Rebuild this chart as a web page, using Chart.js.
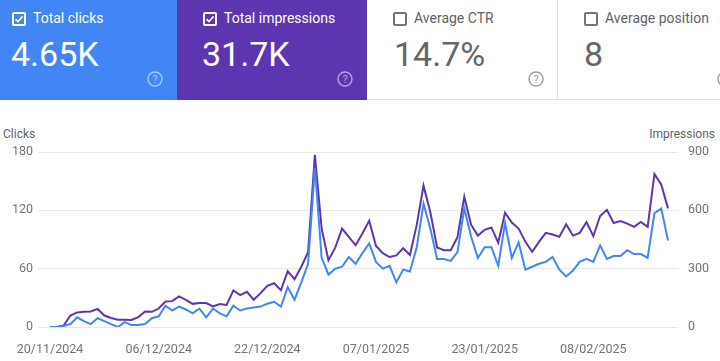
<!DOCTYPE html>
<html>
<head>
<meta charset="utf-8">
<script src="https://cdn.jsdelivr.net/npm/chart.js@4.4.1/dist/chart.umd.min.js"></script>
<style>
  body { margin: 0; width: 720px; height: 361px; overflow: hidden; background: #fff; font-family: Roboto, sans-serif; position: relative; }
  .card { position: absolute; top: 0; height: 100px; box-sizing: border-box; }
  .card .box { position: absolute; left: 12px; top: 12px; width: 14px; height: 14px; box-sizing: border-box; border: 2px solid #fff; border-radius: 2px; }
  .card .label { position: absolute; left: 33px; top: 9px; font-size: 14px; line-height: 18px; white-space: nowrap; }
  .card .value { position: absolute; left: 11px; top: 34px; font-size: 34px; line-height: 40px; white-space: nowrap; }
  .card .help { position: absolute; top: 71px; width: 16px; height: 16px; }
  .sel { color: #fff; }
  .unsel { color: #5f6368; border-bottom: 1px solid #e0e0e0; }
  .unsel .box { border-color: #757575; }
  .unsel .value { color: #666; }
  .axis-title { position: absolute; top: 126px; font-size: 12px; line-height: 16px; color: #5f6368; }
  #wrap { position: absolute; left: 0; top: 100px; width: 720px; height: 261px; }
</style>
</head>
<body>
<div class="card sel" style="left:0;width:177px;background:#4285f4;">
  <div class="box"><svg width="10" height="10" viewBox="0 0 10 10" style="position:absolute;left:0;top:0"><path d="M1.5 5.2 L4 7.6 L8.6 2.4" stroke="#fff" stroke-width="1.6" fill="none"/></svg></div>
  <div class="label">Total clicks</div>
  <div class="value">4.65K</div>
  <svg class="help" style="left:147px" viewBox="0 0 16 16"><circle cx="8" cy="8" r="7" fill="none" stroke="rgba(255,255,255,0.55)" stroke-width="1.4"/><text x="8" y="12" text-anchor="middle" font-size="11" font-family="Roboto" fill="rgba(255,255,255,0.55)">?</text></svg>
</div>
<div class="card sel" style="left:177px;width:190px;background:#5e35b1;">
  <div class="box" style="left:26px"><svg width="10" height="10" viewBox="0 0 10 10" style="position:absolute;left:0;top:0"><path d="M1.5 5.2 L4 7.6 L8.6 2.4" stroke="#fff" stroke-width="1.6" fill="none"/></svg></div>
  <div class="label" style="left:47px">Total impressions</div>
  <div class="value" style="left:25px">31.7K</div>
  <svg class="help" style="left:160px" viewBox="0 0 16 16"><circle cx="8" cy="8" r="7" fill="none" stroke="rgba(255,255,255,0.55)" stroke-width="1.4"/><text x="8" y="12" text-anchor="middle" font-size="11" font-family="Roboto" fill="rgba(255,255,255,0.55)">?</text></svg>
</div>
<div class="card unsel" style="left:367px;width:191px;border-right:1px solid #e0e0e0;">
  <div class="box" style="left:26px"></div>
  <div class="label" style="left:47px">Average CTR</div>
  <div class="value" style="left:27px">14.7%</div>
  <svg class="help" style="left:161px" viewBox="0 0 16 16"><circle cx="8" cy="8" r="7" fill="none" stroke="#9aa0a6" stroke-width="1.4"/><text x="8" y="12" text-anchor="middle" font-size="11" font-family="Roboto" fill="#9aa0a6">?</text></svg>
</div>
<div class="card unsel" style="left:558px;width:162px;">
  <div class="box" style="left:26px"></div>
  <div class="label" style="left:47px">Average position</div>
  <div class="value" style="left:26px">8</div>
  <svg class="help" style="left:159px" viewBox="0 0 16 16"><circle cx="8" cy="8" r="7" fill="none" stroke="#9aa0a6" stroke-width="1.4"/></svg>
</div>

<div class="axis-title" style="left:3px;">Clicks</div>
<div class="axis-title" style="right:5px;">Impressions</div>

<div id="wrap"><canvas id="perfChart"></canvas></div>

<script>
// Daily dates shown on the x axis
const dates = [
  '20/11/2024','21/11/2024','22/11/2024','23/11/2024','24/11/2024','25/11/2024','26/11/2024',
  '27/11/2024','28/11/2024','29/11/2024','30/11/2024',
  '01/12/2024','02/12/2024','03/12/2024','04/12/2024','05/12/2024','06/12/2024','07/12/2024',
  '08/12/2024','09/12/2024','10/12/2024','11/12/2024','12/12/2024','13/12/2024','14/12/2024',
  '15/12/2024','16/12/2024','17/12/2024','18/12/2024','19/12/2024','20/12/2024','21/12/2024',
  '22/12/2024','23/12/2024','24/12/2024','25/12/2024','26/12/2024','27/12/2024','28/12/2024',
  '29/12/2024','30/12/2024','31/12/2024',
  '01/01/2025','02/01/2025','03/01/2025','04/01/2025','05/01/2025','06/01/2025','07/01/2025',
  '08/01/2025','09/01/2025','10/01/2025','11/01/2025','12/01/2025','13/01/2025','14/01/2025',
  '15/01/2025','16/01/2025','17/01/2025','18/01/2025','19/01/2025','20/01/2025','21/01/2025',
  '22/01/2025','23/01/2025','24/01/2025','25/01/2025','26/01/2025','27/01/2025','28/01/2025',
  '29/01/2025','30/01/2025','31/01/2025',
  '01/02/2025','02/02/2025','03/02/2025','04/02/2025','05/02/2025','06/02/2025','07/02/2025',
  '08/02/2025','09/02/2025','10/02/2025','11/02/2025','12/02/2025','13/02/2025','14/02/2025',
  '15/02/2025','16/02/2025','17/02/2025','18/02/2025','19/02/2025'
];

// Clicks per day (left axis)
const clicks = [
  0, 0, 1, 3, 10, 6, 3, 9, 6, 3,
  0, 5, 2, 2, 3, 9, 11, 22, 17, 21,
  18, 14, 19, 10, 19, 14, 11, 22, 17, 19,
  20, 21, 24, 26, 21, 41, 28, 46, 65, 164,
  71, 54, 60, 62, 72, 65, 76, 86, 67, 60,
  63, 46, 59, 57, 82, 127, 101, 70, 70, 68,
  77, 122, 93, 71, 82, 82, 63, 107, 71, 87,
  59, 62, 65, 67, 72, 59, 52, 58, 67, 70,
  67, 84, 70, 73, 73, 79, 75, 75, 71, 117,
  122, 89
];

// Impressions per day (right axis)
const impressions = [
  0, 0, 7, 59, 75, 78, 80, 93, 59, 46,
  37, 37, 36, 51, 80, 78, 95, 131, 133, 157,
  140, 119, 123, 123, 106, 118, 113, 188, 164, 181,
  140, 174, 212, 225, 189, 287, 246, 310, 385, 885,
  505, 344, 408, 506, 464, 420, 481, 547, 417, 380,
  360, 368, 405, 370, 525, 727, 590, 409, 395, 395,
  462, 670, 526, 470, 500, 512, 433, 588, 537, 506,
  438, 387, 438, 484, 476, 464, 528, 470, 484, 540,
  467, 571, 603, 535, 545, 532, 515, 540, 515, 786,
  733, 610
];

const tickLabels = ['20/11/2024', '06/12/2024', '22/12/2024', '07/01/2025', '23/01/2025', '08/02/2025'];

const clickPoints = clicks.map((v, i) => ({ x: i, y: v }));
const imprPoints = impressions.map((v, i) => ({ x: i, y: v }));

const tickColor = '#70757a';
const tickFont = { family: 'Roboto', size: 12.5 };

const ctx = document.getElementById('perfChart').getContext('2d');
new Chart(ctx, {
  type: 'line',
  data: {
    datasets: [
      {
        label: 'Clicks',
        data: clickPoints,
        yAxisID: 'y',
        borderColor: '#4285f4',
        borderWidth: 2,
        pointRadius: 0,
        tension: 0,
        fill: false
      },
      {
        label: 'Impressions',
        data: imprPoints,
        yAxisID: 'y1',
        borderColor: '#5e35b1',
        borderWidth: 2,
        pointRadius: 0,
        tension: 0,
        fill: false
      }
    ]
  },
  options: {
    responsive: true,
    maintainAspectRatio: false,
    animation: false,
    layout: { padding: { top: 52, left: 0, right: 0, bottom: 0 } },
    plugins: { legend: { display: false }, tooltip: { enabled: false } },
    scales: {
      x: {
        type: 'linear',
        min: -1.77,
        max: 92.47,
        grid: { display: false, drawTicks: false },
        border: { display: false },
        afterBuildTicks: (scale) => {
          scale.ticks = tickLabels.map(l => ({ value: dates.indexOf(l) }));
        },
        afterFit: (scale) => { scale.height = 34; },
        ticks: {
          autoSkip: false,
          maxRotation: 0,
          padding: 15,
          color: tickColor,
          font: tickFont,
          callback: (value) => dates[value]
        }
      },
      y: {
        position: 'left',
        min: 0,
        max: 180,
        grid: { color: '#e8e8e8', lineWidth: 1, drawTicks: false },
        border: { display: false },
        afterFit: (scale) => { scale.width = 38; },
        ticks: { stepSize: 60, padding: 5, color: tickColor, font: tickFont }
      },
      y1: {
        position: 'right',
        min: 0,
        max: 900,
        grid: { drawOnChartArea: false, drawTicks: false },
        border: { display: false },
        afterFit: (scale) => { scale.width = 42; },
        ticks: { stepSize: 300, padding: 10, color: tickColor, font: tickFont }
      }
    }
  }
});
</script>
</body>
</html>
